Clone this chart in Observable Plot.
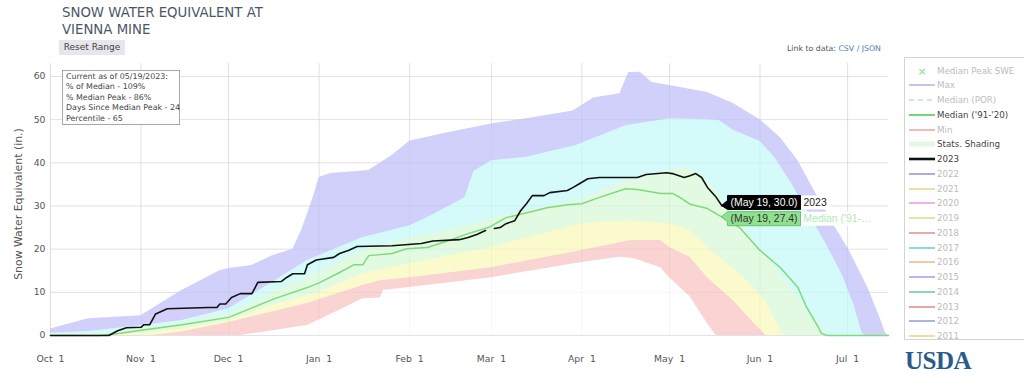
<!DOCTYPE html>
<html><head><meta charset="utf-8">
<script src="https://cdn.jsdelivr.net/npm/d3@7"></script>
<script src="https://cdn.jsdelivr.net/npm/@observablehq/plot@0.6"></script>
<style>
html,body{margin:0;padding:0;background:#fff;}
#wrap{position:relative;width:1024px;height:374px;overflow:hidden;font-family:"DejaVu Sans",sans-serif;}
#chart{position:absolute;left:0;top:0;}
.title{position:absolute;left:62px;top:4px;font-size:13.3px;color:#4b5665;line-height:17px;white-space:nowrap;}
.reset{position:absolute;left:59px;top:40px;width:66px;height:15px;background:#e6e6ec;font-size:9px;color:#444;line-height:15px;text-align:center;}
.ytitle{position:absolute;left:18px;top:204px;transform:translate(-50%,-50%) rotate(-90deg);font-size:10.9px;color:#555;white-space:nowrap;}
.info{position:absolute;left:62px;top:70px;width:118px;height:55px;border:1px solid #a8a8a8;background:#fff;font-size:7.9px;color:#444;line-height:10.4px;padding:1px 0 0 3px;box-sizing:border-box;white-space:nowrap;}
.link{position:absolute;left:787px;top:44px;font-size:7.8px;color:#555;white-space:nowrap;}
.link span{color:#4f7fb5;}
.legend{position:absolute;left:904px;top:57px;width:140px;height:281px;border:1px solid #d4d4d4;background:#fff;}
.usda{position:absolute;left:905px;top:347px;font-family:"Liberation Serif",serif;font-weight:bold;font-size:25px;color:#2b5a8c;letter-spacing:-0.5px;}
</style></head><body>
<div id="wrap">
  <div id="chart"></div>
  <div class="title">SNOW WATER EQUIVALENT AT<br>VIENNA MINE</div>
  <div class="reset">Reset Range</div>
  <div class="ytitle">Snow Water Equivalent (in.)</div>
  <div class="info" id="info"></div>
  <div class="link">Link to data: <span>CSV / JSON</span></div>
  <div class="legend" id="legend"></div>
  <div class="usda">USDA</div>
</div>
<script>
// ---------- DATA ----------
const monthTicks = ["10-01","11-01","12-01","01-01","02-01","03-01","04-01","05-01","06-01","07-01"];
const yTicks = [0,10,20,30,40,50,60];

const maxSWE = [["10-01",1.5],["10-14",3.9],["11-01",4.6],["11-12",9.2],["11-15",10.4],["11-28",15],["12-01",15.5],["12-09",16.2],["12-16",18.5],["12-23",20],["12-26",24.3],["12-30",32],["01-01",36.6],["01-05",37.5],["01-18",38.2],["01-26",41.7],["02-01",45],["02-12",46.7],["03-01",49],["03-13",50.2],["03-29",52],["04-05",55],["04-14",56],["04-17",60.9],["04-21",61],["04-25",58.6],["05-01",57.9],["05-14",56.3],["05-23",53.7],["06-01",50],["06-08",45.8],["06-14",40.5],["06-19",34.3],["06-26",25.9],["07-01",20.4],["07-08",11],["07-12",4.2],["07-14",0.5],["07-15",0]];
const p90SWE = [["10-01",0.5],["10-15",1.0],["11-01",2.3],["11-15",3.5],["12-01",6.2],["12-16",12.3],["12-28",17.4],["01-16",22.7],["01-25",24.2],["02-01",25.4],["02-07",27.3],["02-18",31.2],["02-20",32],["02-23",38],["03-01",40.5],["03-13",41.3],["03-30",44],["04-16",48.6],["05-01",50.2],["05-14",50],["05-18",49.8],["05-23",47.5],["06-01",45],["06-06",41.3],["06-12",35],["06-17",29],["06-23",22],["06-29",14.3],["07-03",7.4],["07-06",0.5],["07-07",0],["07-15",0]];
const p70SWE = [["10-01",0],["10-20",0.2],["11-01",1.8],["11-15",3.0],["12-01",5.0],["12-16",10],["12-28",13.5],["01-16",19.7],["02-01",22.5],["02-15",24.5],["03-01",27],["03-13",29],["04-01",31.5],["04-16",35.9],["05-01",38.2],["05-06",38.9],["05-10",38],["05-14",35.9],["05-19",31.5],["05-25",25.9],["06-01",20.4],["06-08",14.3],["06-15",8],["06-21",2.8],["06-24",0],["07-15",0]];
const p30SWE = [["10-01",0],["11-01",0.5],["11-15",1.5],["12-01",3.4],["12-16",7],["01-01",10],["01-16",14.3],["02-01",16.7],["03-01",20.4],["04-01",25.9],["04-16",26.6],["05-01",25.9],["05-08",24.3],["05-14",20.4],["05-25",14.3],["06-03",8],["06-08",1.2],["06-10",0],["07-15",0]];
const p10SWE = [["10-01",0],["11-05",0],["11-15",0.8],["12-01",3],["12-28",7.4],["01-16",11.6],["01-22",12.7],["02-01",13.4],["03-01",15.7],["04-01",19.7],["04-14",21.5],["04-18",22],["04-28",22],["05-01",20.4],["05-08",18.1],["05-14",13.4],["05-23",8],["05-29",3.5],["06-03",0],["07-15",0]];
const minSWE = [["10-01",0],["12-05",0],["12-28",2.3],["01-03",4.2],["01-16",8.5],["01-22",8.7],["01-23",10.4],["02-01",11.1],["03-01",13.4],["04-01",16.9],["04-14",18.1],["04-19",17.8],["04-28",15.7],["05-01",13.4],["05-08",9],["05-14",2.8],["05-17",0],["07-15",0]];
const medianSWE = [["10-01",0],["10-18",0],["10-25",0.5],["11-01",1.2],["11-15",2.5],["12-01",4.2],["12-17",8.6],["12-28",11.1],["01-01",12.2],["01-08",14.6],["01-13",16.4],["01-16",16.4],["01-18",18.5],["01-26",19],["01-31",20.1],["02-07",20.4],["02-14",21.9],["02-21",23.6],["02-28",25],["03-06",27.3],["03-15",28.7],["03-20",29.6],["03-27",30.3],["04-01",30.5],["04-07",32],["04-16",34],["04-20",33.8],["04-28",32.9],["05-02",32.9],["05-04",32.2],["05-08",30.4],["05-14",29.4],["05-19",27.4],["05-25",25],["06-01",19.7],["06-08",15.7],["06-14",11.1],["06-17",6.5],["06-21",1.9],["06-22",0.5],["06-24",0],["07-15",0]];
const wy2023 = [["10-01",0],["10-21",0],["10-24",1.1],["10-27",1.8],["11-01",1.9],["11-02",2.5],["11-04",2.5],["11-06",5.0],["11-10",6.2],["11-24",6.5],["11-27",6.5],["11-28",7.3],["11-30",7.3],["12-02",8.8],["12-05",9.7],["12-09",9.7],["12-11",12.3],["12-19",12.5],["12-21",13.5],["12-23",14.3],["12-27",14.3],["12-28",16.4],["12-31",17.5],["01-06",18.1],["01-08",19.0],["01-11",19.7],["01-14",20.6],["01-26",20.8],["02-05",21.3],["02-09",21.9],["02-18",22.2],["02-21",22.7],["02-24",23.4],["02-27",24.3],["02-28",null],["03-02",24.8],["03-04",25.0],["03-06",25.9],["03-09",26.6],["03-11",28.9],["03-13",30.5],["03-15",32.4],["03-19",32.4],["03-21",33.1],["03-27",33.6],["03-29",34.3],["03-31",35.1],["04-03",36.3],["04-07",36.6],["04-20",36.6],["04-23",37.3],["04-30",37.7],["05-02",37.5],["05-06",36.6],["05-08",37.0],["05-10",37.5],["05-12",36.6],["05-14",34.3],["05-17",32.0],["05-19",30.0]];

const infoLines = ["Current as of 05/19/2023:","% of Median - 109%","% Median Peak - 86%","Days Since Median Peak - 24","Percentile - 65"];
const legendNames = ["Median Peak SWE","Max","Median (POR)","Median ('91-'20)","Min","Stats. Shading","2023","2022","2021","2020","2019","2018","2017","2016","2015","2014","2013","2012","2011"];
const legendOn = [false,false,false,true,false,true,true,false,false,false,false,false,false,false,false,false,false,false,false];

// ---------- STYLE ----------
const legendColors = ["#9fe39f","#c4c4ec","#cdeccd","#74d874","#f1b9b9","#e3f8e3","#111","#a9aedb","#ece0a3","#eab3ea","#dfe6a6","#eaa9a9","#8fd9d9","#f2c8a6","#c4b0ea","#89d8bb","#eaa6a6","#aab4e2","#f4daa4"];
const C = {max:"#d0d0fa", p90:"#d4fafa", p70:"#e2f9e2", p30:"#fafacd", p10:"#fad3d3", min:"#ffffff", median:"#7cdc7c", cur:"#111111"};

const toDate = s => { const [m,d] = s.split("-").map(Number); return new Date(Date.UTC(m >= 10 ? 2022 : 2023, m - 1, d)); };
const rows = arr => arr.map(([d, v]) => ({date: toDate(d), value: v}));
const tickDates = monthTicks.map(toDate);
const fmt = d3.utcFormat("%b\u00a0\u00a0%-d");

const area = (arr, fill) => Plot.areaY(rows(arr), {x: "date", y: "value", fill, fillOpacity: 1});

const chart = Plot.plot({
  width: 1024, height: 374,
  marginLeft: 50, marginRight: 136, marginTop: 63, marginBottom: 39,
  style: {fontFamily: "DejaVu Sans, sans-serif", fontSize: "9.3px", color: "#555", background: "transparent", overflow: "visible"},
  x: {type: "utc", domain: [toDate("10-01"), toDate("07-15")], ticks: tickDates, tickFormat: fmt, tickSize: 0, tickPadding: 20, label: null},
  y: {domain: [0, 63], ticks: yTicks, tickSize: 0, tickPadding: 5, label: null},
  marks: [
    Plot.ruleX(tickDates, {stroke: "#e9e9ee"}),
    Plot.ruleY(yTicks.filter(v => v > 0), {stroke: "#e9e9ee"}),
    area(maxSWE, C.max),
    area(p90SWE, C.p90),
    area(p70SWE, C.p70),
    area(p30SWE, C.p30),
    area(p10SWE, C.p10),
    area(minSWE, C.min),
    Plot.ruleX(tickDates, {stroke: "#000", strokeOpacity: 0.035}),
    Plot.ruleY(yTicks.filter(v => v > 0), {stroke: "#000", strokeOpacity: 0.035}),
    Plot.ruleY([0], {stroke: "#e2e2ea"}),
    Plot.lineY(rows(medianSWE), {x: "date", y: "value", stroke: C.median, strokeWidth: 1.5}),
    Plot.lineY(rows(wy2023), {x: "date", y: "value", stroke: C.cur, strokeWidth: 1.6})
  ]
});
document.getElementById("chart").appendChild(chart);

// ---------- hover labels ----------
const sx = chart.scale("x"), sy = chart.scale("y");
const svg = d3.select(chart);
function hover(dateStr, value, boxFill, boxStroke, textFill, name, nameColor, shift) {
  const px = sx.apply(toDate(dateStr)), py = sy.apply(value);
  const h = 14, x0 = px + 6, cy = py + shift;
  const top = cy - h / 2, bot = cy + h / 2;
  const g = svg.append("g").attr("font-family", "Liberation Sans, Arial, sans-serif").attr("font-size", 10.4).attr("text-anchor", "start");
  const path = g.append("path");
  const md = d3.utcFormat("%b %-d")(toDate(dateStr));
  const t = g.append("text").attr("text-anchor", "start").attr("y", cy + 3.7).attr("fill", textFill).text(`(${md}, ${value.toFixed(1)})`);
  const tw = t.node().getComputedTextLength();
  const w = tw + 6, x1 = x0 + w;
  t.attr("x", x0 + 3);
  path.attr("d", `M${px},${py}L${x0},${Math.min(py + 5, bot)}V${bot}H${x1}V${top}H${x0}V${Math.max(py - 5, top)}Z`)
    .attr("fill", boxFill).attr("stroke", boxStroke).attr("stroke-width", 1);
  const bg = g.append("rect").attr("x", x1 + 0.5).attr("y", top).attr("height", h).attr("fill", "#fff");
  const n = g.append("text").attr("text-anchor", "start").attr("x", x1 + 3).attr("y", cy + 3.7).attr("fill", nameColor).text(name);
  bg.attr("width", n.node().getComputedTextLength() + 6);
}
const last2023 = wy2023[wy2023.length - 1];
const medAt = medianSWE.find(d => d[0] === last2023[0]);
hover(medAt[0], medAt[1], "#8fe08f", "#6cc06c", "#333", "Median ('91-\u2026", "#b2e9b2", 2);
hover(last2023[0], last2023[1], "#000", "#000", "#fff", "2023", "#222", -3);

// ---------- info box ----------
document.getElementById("info").innerHTML = infoLines.join("<br>");

// ---------- legend ----------
const leg = document.getElementById("legend");
legendNames.forEach((name, i) => {
  const row = document.createElement("div");
  row.style.cssText = `position:absolute;left:0;top:${5.5 + i * 14.75}px;height:14px;width:140px;`;
  const col = legendColors[i];
  let sw;
  if (i === 0) sw = `<text x="15" y="10.5" text-anchor="middle" font-size="11" font-weight="bold" fill="${col}">\u00d7</text>`;
  else if (i === 2) sw = `<line x1="2" x2="28" y1="7" y2="7" stroke="${col}" stroke-width="2" stroke-dasharray="5,4"/>`;
  else if (i === 5) sw = `<line x1="2" x2="28" y1="7" y2="7" stroke="${col}" stroke-width="5"/>`;
  else if (i === 6) sw = `<line x1="2" x2="28" y1="7" y2="7" stroke="${col}" stroke-width="2.6"/>`;
  else sw = `<line x1="2" x2="28" y1="7" y2="7" stroke="${col}" stroke-width="2"/>`;
  row.innerHTML = `<svg width="30" height="14" style="position:absolute;left:2px;top:0">${sw}</svg>` +
    `<span style="position:absolute;left:32px;top:0;line-height:14px;font-size:8.7px;color:${legendOn[i] ? "#444" : "#bcbcbc"};white-space:nowrap">${name}</span>`;
  leg.appendChild(row);
});
</script>
</body></html>
